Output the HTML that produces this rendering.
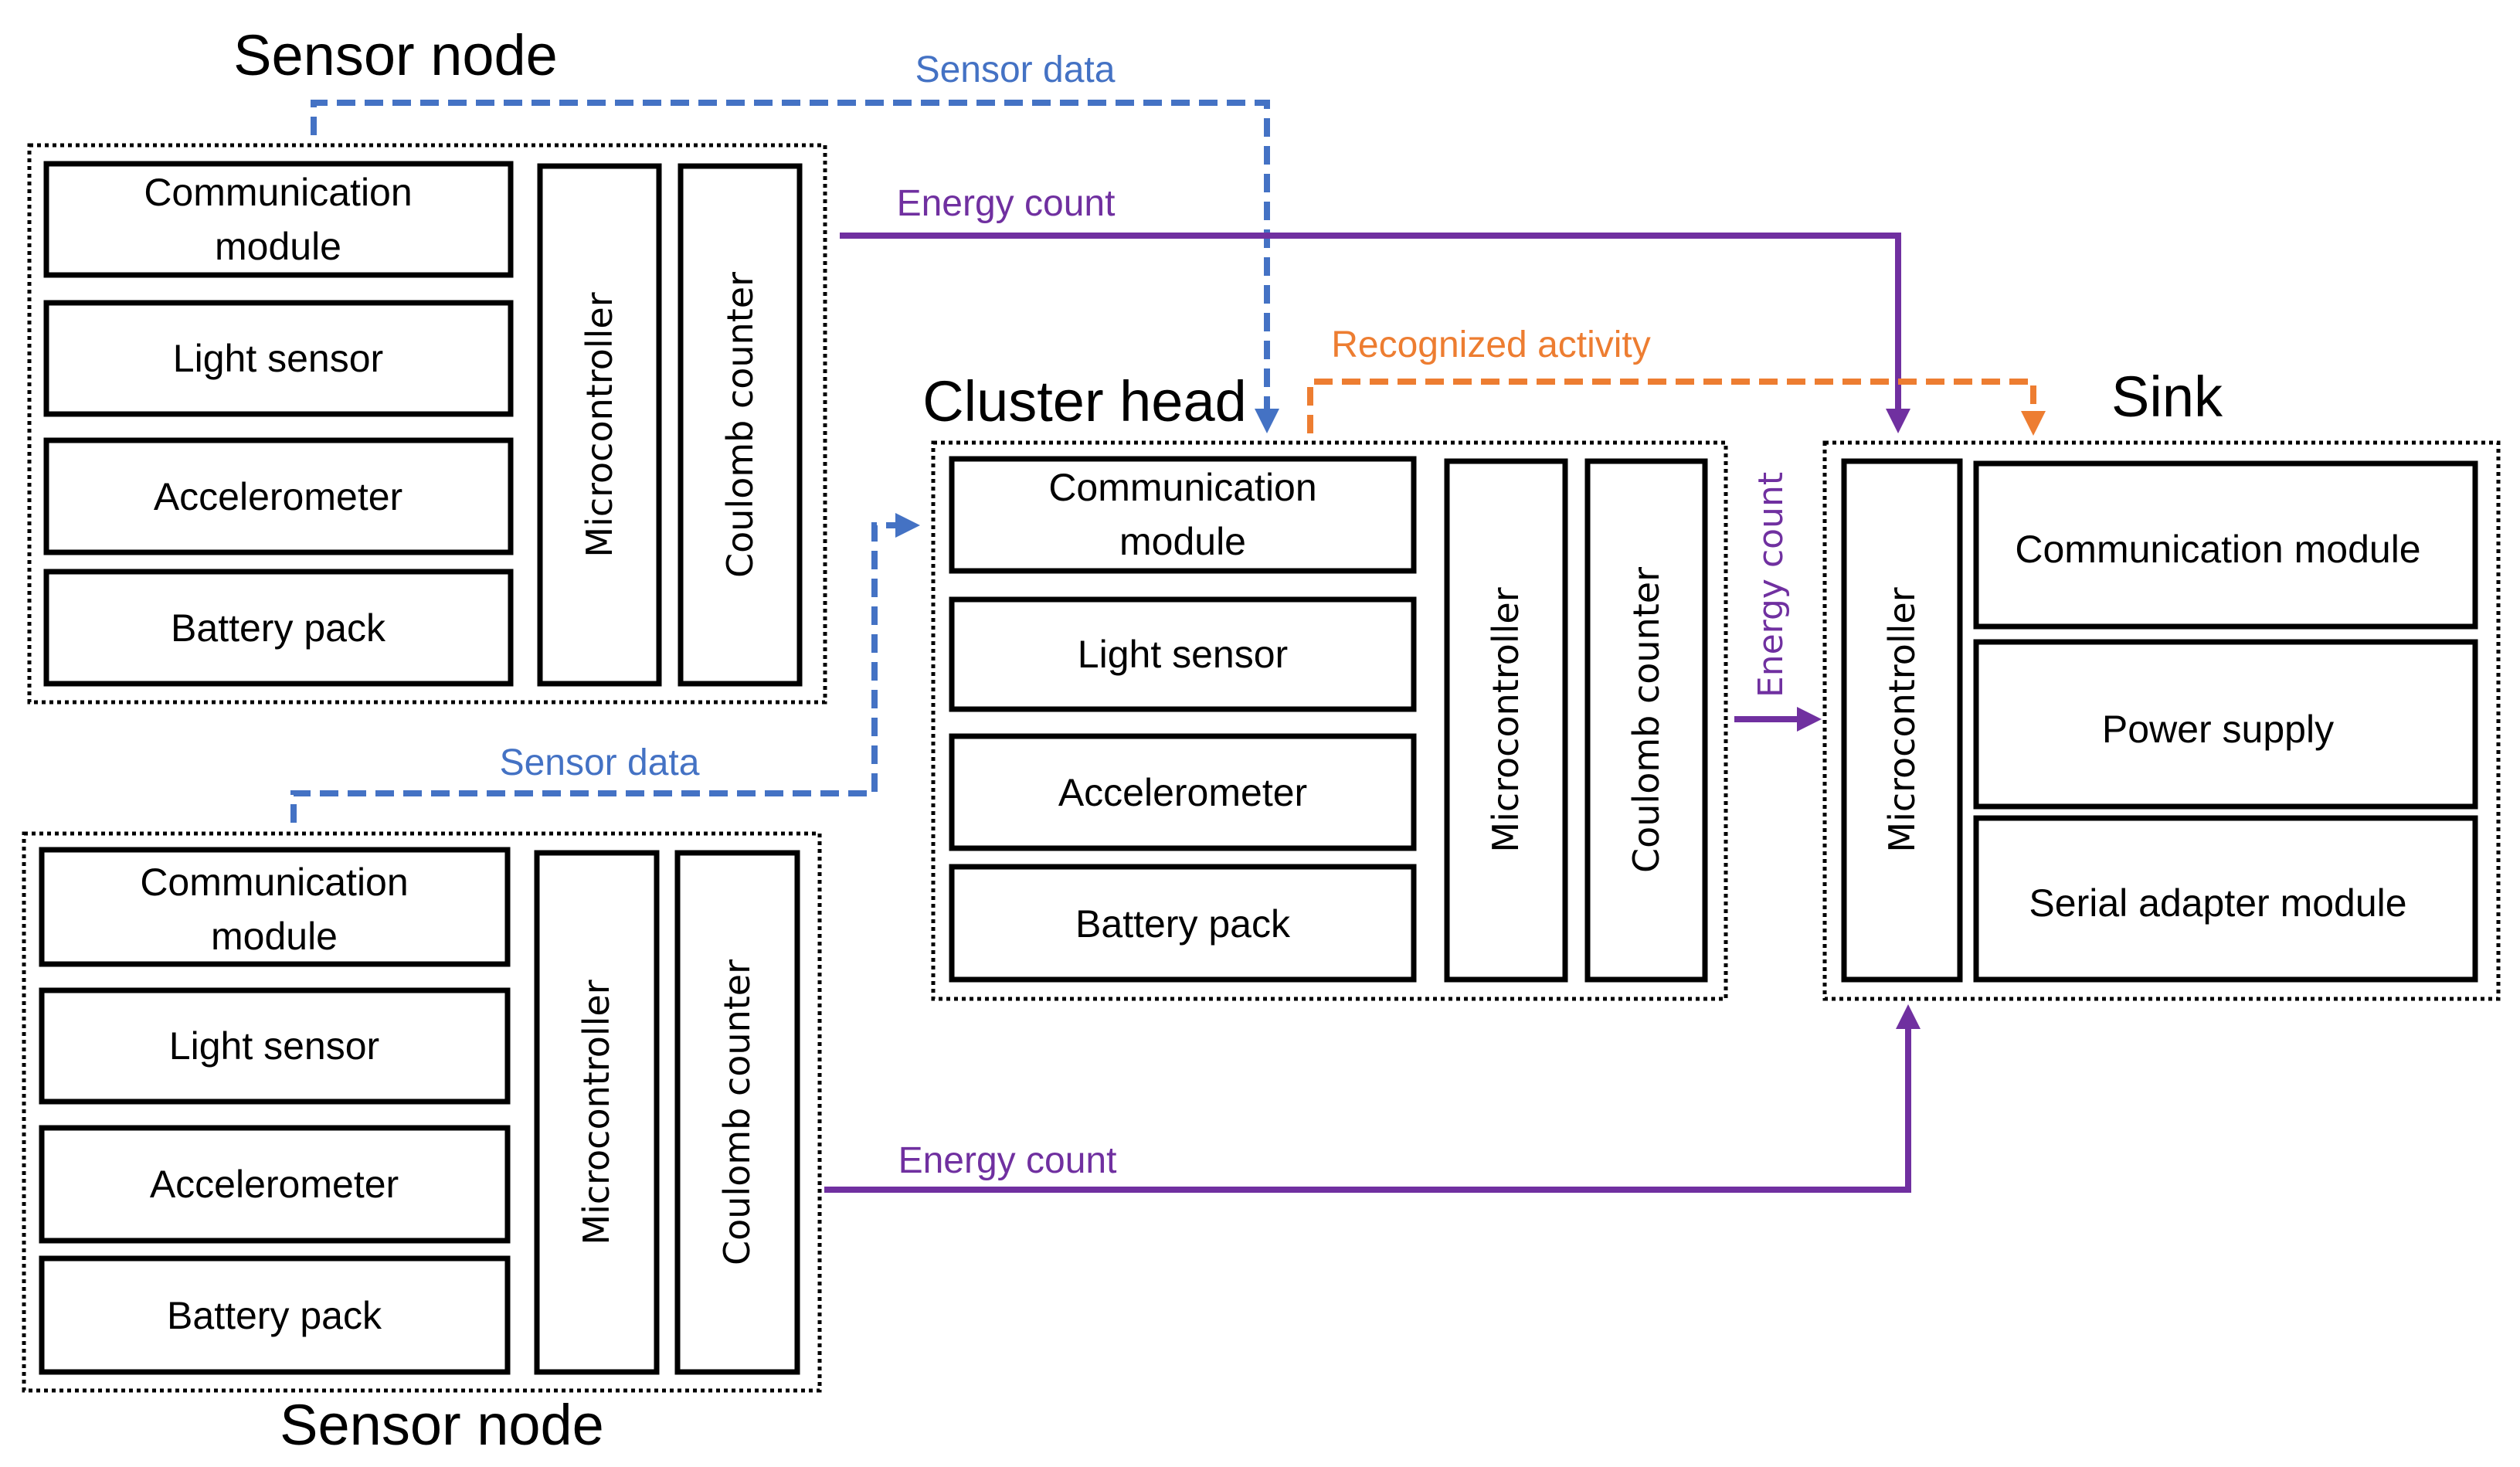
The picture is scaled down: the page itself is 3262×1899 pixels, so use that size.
<!DOCTYPE html>
<html><head><meta charset="utf-8"><style>
html,body{margin:0;padding:0;background:#fff}
svg{display:block}
.t{font-family:"Liberation Sans",sans-serif;text-anchor:middle}
.v{font-family:"DejaVu Sans",sans-serif;text-anchor:middle;font-size:46px}
</style></head><body>
<svg width="3262" height="1899" viewBox="0 0 3262 1899" xmlns="http://www.w3.org/2000/svg">
<defs>
<marker id="ab" markerWidth="4" markerHeight="4" refX="2" refY="2" orient="auto" markerUnits="strokeWidth"><path d="M0,0 L4,2 L0,4 Z" fill="#4472C4"/></marker>
<marker id="ap" markerWidth="4" markerHeight="4" refX="2" refY="2" orient="auto" markerUnits="strokeWidth"><path d="M0,0 L4,2 L0,4 Z" fill="#7030A0"/></marker>
<marker id="ao" markerWidth="4" markerHeight="4" refX="2" refY="2" orient="auto" markerUnits="strokeWidth"><path d="M0,0 L4,2 L0,4 Z" fill="#ED7D31"/></marker>
</defs>
<g fill="none" stroke="#000">
<rect x="38" y="188" width="1030" height="721" stroke-width="5" stroke-dasharray="5 5"/>
<rect x="31" y="1079" width="1030" height="721" stroke-width="5" stroke-dasharray="5 5"/>
<rect x="1208" y="573" width="1026" height="720" stroke-width="5" stroke-dasharray="5 5"/>
<rect x="2362" y="573" width="872" height="720" stroke-width="5" stroke-dasharray="5 5"/>
<g stroke-width="7">
<rect x="60" y="212" width="601" height="144"/>
<rect x="60" y="392" width="601" height="144"/>
<rect x="60" y="570" width="601" height="145"/>
<rect x="60" y="740" width="601" height="145"/>
<rect x="699" y="215" width="154" height="670"/>
<rect x="881" y="215" width="154" height="670"/>
<rect x="54" y="1100" width="603" height="148"/>
<rect x="54" y="1282" width="603" height="144"/>
<rect x="54" y="1460" width="603" height="146"/>
<rect x="54" y="1629" width="603" height="147"/>
<rect x="695" y="1104" width="155" height="672"/>
<rect x="877" y="1104" width="155" height="672"/>
<rect x="1232" y="594" width="598" height="145"/>
<rect x="1232" y="776" width="598" height="142"/>
<rect x="1232" y="953" width="598" height="145"/>
<rect x="1232" y="1122" width="598" height="146"/>
<rect x="1873" y="597" width="153" height="671"/>
<rect x="2055" y="597" width="152" height="671"/>
<rect x="2387" y="597" width="150" height="671"/>
<rect x="2558" y="600" width="646" height="211"/>
<rect x="2558" y="831" width="646" height="213"/>
<rect x="2558" y="1059" width="646" height="209"/>
</g>
<polyline points="406,175 406,133 1640,133 1640,545" stroke="#4472C4" stroke-width="8" stroke-dasharray="24 12" marker-end="url(#ab)"/>
<polyline points="380,1065 380,1027 1132,1027 1132,680 1175,680" stroke="#4472C4" stroke-width="8" stroke-dasharray="24 12" marker-end="url(#ab)"/>
<polyline points="1087,305 2457,305 2457,545" stroke="#7030A0" stroke-width="8" marker-end="url(#ap)"/>
<polyline points="1067,1540 2470,1540 2470,1316" stroke="#7030A0" stroke-width="8" marker-end="url(#ap)"/>
<polyline points="2245,931 2342,931" stroke="#7030A0" stroke-width="8" marker-end="url(#ap)"/>
<polyline points="1696,561 1696,494 2632,494 2632,548" stroke="#ED7D31" stroke-width="8" stroke-dasharray="24 12" marker-end="url(#ao)"/>
</g>
<g class="t" font-size="50" fill="#000">
<text x="360" y="266">Communication</text><text x="360" y="336">module</text>
<text x="360" y="481">Light sensor</text>
<text x="360" y="660">Accelerometer</text>
<text x="360" y="830">Battery pack</text>
<text x="355" y="1159">Communication</text><text x="355" y="1229">module</text>
<text x="355" y="1371">Light sensor</text>
<text x="355" y="1550">Accelerometer</text>
<text x="355" y="1720">Battery pack</text>
<text x="1531" y="648">Communication</text><text x="1531" y="718">module</text>
<text x="1531" y="864">Light sensor</text>
<text x="1531" y="1043">Accelerometer</text>
<text x="1531" y="1213">Battery pack</text>
<text x="2871" y="728">Communication module</text>
<text x="2871" y="961">Power supply</text>
<text x="2871" y="1186">Serial adapter module</text>
</g>
<g class="v" fill="#000">
<text transform="translate(792,550) rotate(-90)">Microcontroller</text>
<text transform="translate(974,550) rotate(-90)">Coulomb counter</text>
<text transform="translate(788,1440) rotate(-90)">Microcontroller</text>
<text transform="translate(970,1440) rotate(-90)">Coulomb counter</text>
<text transform="translate(1965,932) rotate(-90)">Microcontroller</text>
<text transform="translate(2147,932) rotate(-90)">Coulomb counter</text>
<text transform="translate(2478,932) rotate(-90)">Microcontroller</text>
<text transform="translate(2307,757) rotate(-90)" fill="#7030A0" font-size="44">Energy count</text>
</g>
<g class="t" font-size="74" fill="#000">
<text x="512" y="97">Sensor node</text>
<text x="572" y="1870">Sensor node</text>
<text x="1404" y="545">Cluster head</text>
<text x="2805" y="539">Sink</text>
</g>
<g class="t" font-size="48">
<text x="1314" y="106" fill="#4472C4">Sensor data</text>
<text x="776" y="1003" fill="#4472C4">Sensor data</text>
<text x="1302" y="279" fill="#7030A0">Energy count</text>
<text x="1304" y="1518" fill="#7030A0">Energy count</text>
<text x="1930" y="462" fill="#ED7D31">Recognized activity</text>
</g>
</svg>
</body></html>
